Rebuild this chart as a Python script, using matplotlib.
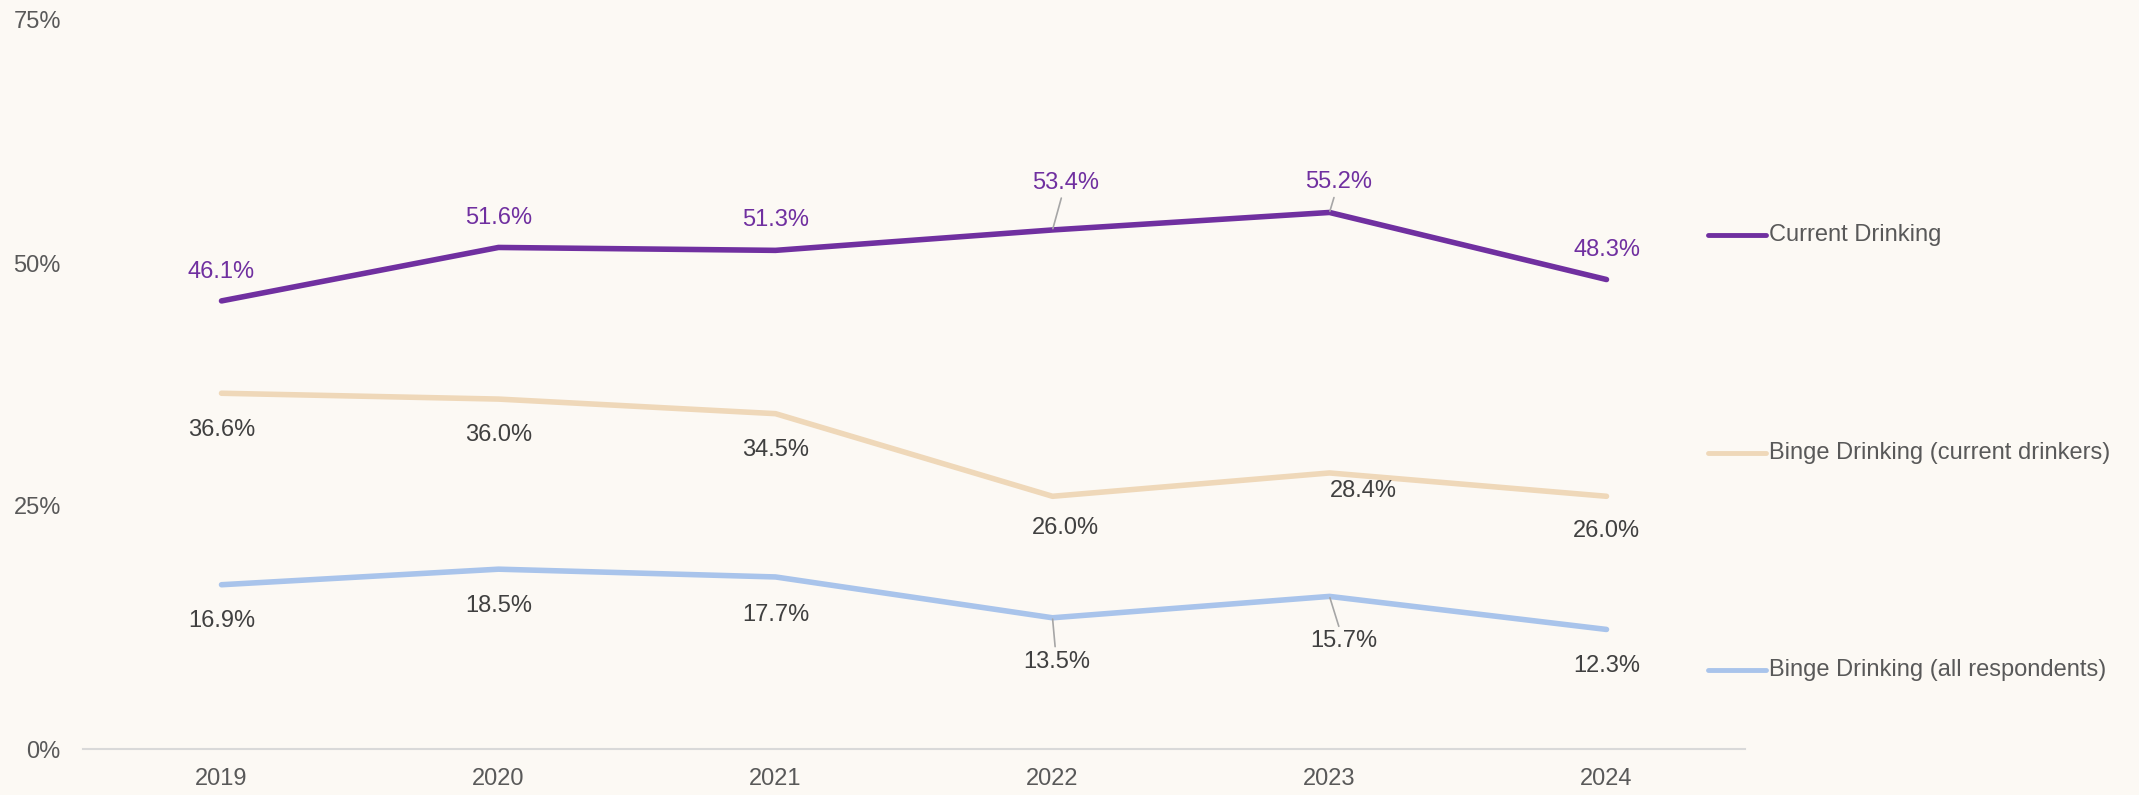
import matplotlib
matplotlib.use("Agg")
import matplotlib.pyplot as plt
from matplotlib.ticker import FuncFormatter

# ------------------------------------------------------------------------------
# data
# ------------------------------------------------------------------------------
years = ["2019", "2020", "2021", "2022", "2023", "2024"]

current_drinking = [46.1, 51.6, 51.3, 53.4, 55.2, 48.3]
binge_current = [36.6, 36.0, 34.5, 26.0, 28.4, 26.0]
binge_all = [16.9, 18.5, 17.7, 13.5, 15.7, 12.3]

series_names = [
    "Current Drinking",
    "Binge Drinking (current drinkers)",
    "Binge Drinking (all respondents)",
]
y_ticks = [0, 25, 50, 75]

# ------------------------------------------------------------------------------
# style
# ------------------------------------------------------------------------------
BG = "#FCF9F4"
PURPLE = "#7030A0"
BEIGE = "#EFD8B9"
BLUE = "#A9C4EB"
LABEL_DARK = "#404040"
TICK_GREY = "#595959"
LEADER = "#A6A6A6"
FS = 17

plt.rcParams["font.family"] = ["Liberation Sans", "DejaVu Sans"]

# label offsets in pixels (dx, dy), and which labels get a leader line
off_current = [(0, 29), (0, 29), (0, 30), (13, 47), (9, 30), (0, 30)]
off_bcur = [(0, -37), (0, -36), (0, -36), (13, -32), (34, -18), (0, -35)]
off_ball = [(0, -36), (0, -37), (0, -38), (4, -44), (14, -45), (0, -37)]
lead_current = [False, False, False, True, True, False]
lead_bcur = [False] * 6
lead_ball = [False, False, False, True, True, False]

fig = plt.figure(figsize=(21.39, 7.95), dpi=100, facecolor=BG)
ax = fig.add_axes([83 / 2139, 46 / 795, 1662 / 2139, 729 / 795])
ax.set_facecolor(BG)

x = list(range(len(years)))
rows = [
    (current_drinking, PURPLE, PURPLE, off_current, lead_current),
    (binge_current, BEIGE, LABEL_DARK, off_bcur, lead_bcur),
    (binge_all, BLUE, LABEL_DARK, off_ball, lead_ball),
]

for vals, col, lcol, offs, leads in rows:
    ax.plot(x, vals, color=col, lw=4, solid_capstyle="round",
            solid_joinstyle="round", zorder=3)
    for xi, v, (dx, dy), lead in zip(x, vals, offs, leads):
        kw = {}
        if lead:
            kw["arrowprops"] = dict(arrowstyle="-", color=LEADER, lw=1.2,
                                    shrinkA=1, shrinkB=1)
        ax.annotate(f"{v:.1f}%", xy=(xi, v), xytext=(dx, dy),
                    textcoords="offset pixels", ha="center", va="center",
                    fontsize=FS, color=lcol, zorder=4, **kw)

# legend drawn by hand (entries are spread down the right side)
legend_y = [0.705, 0.406, 0.108]
for name, col, ly in zip(series_names, [PURPLE, BEIGE, BLUE], legend_y):
    ax.plot([0.978, 1.0126], [ly, ly], transform=ax.transAxes, color=col,
            lw=3.5, solid_capstyle="round", clip_on=False)
    ax.text(1.0145, ly, name, transform=ax.transAxes, fontsize=FS,
            color=TICK_GREY, ha="left", va="center")

ax.set_xlim(-0.5, len(years) - 0.5)
ax.set_ylim(0, 75)
ax.set_xticks(x)
ax.set_xticklabels(years)
ax.set_yticks(y_ticks)
ax.yaxis.set_major_formatter(FuncFormatter(lambda v, _: f"{v:.0f}%"))
ax.tick_params(axis="both", length=0, labelsize=FS, colors=TICK_GREY)
ax.tick_params(axis="y", pad=16)
ax.tick_params(axis="x", pad=14)

for side in ["top", "right", "left"]:
    ax.spines[side].set_visible(False)
ax.spines["bottom"].set_color("#D9D9D9")
ax.spines["bottom"].set_linewidth(1.5)

fig.savefig("out.png", dpi=100, facecolor=BG)
